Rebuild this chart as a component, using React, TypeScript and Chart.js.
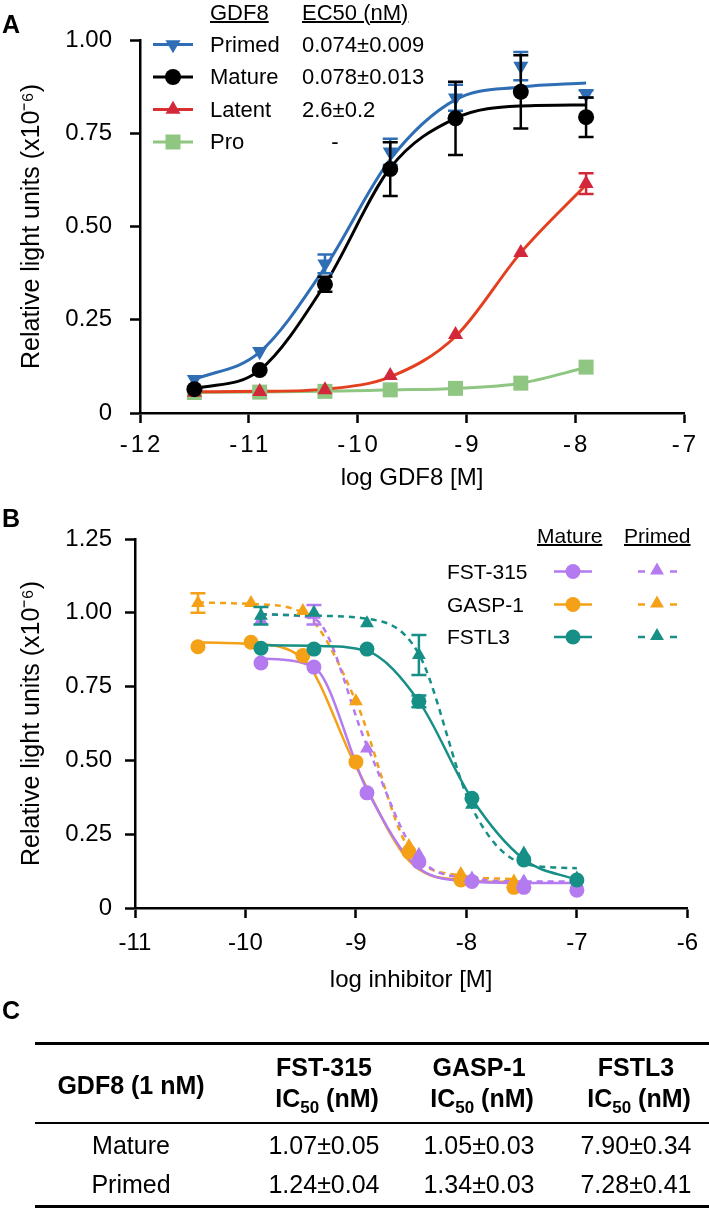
import React, { useEffect, useRef } from 'react';
import { Chart, registerables } from 'chart.js';

Chart.register(...registerables);

const FONT = "'Liberation Sans', Arial, Helvetica, sans-serif";

// ---------- Panel A data ----------
const xA = [-11.5, -10.9, -10.3, -9.7, -9.1, -8.5, -7.9];
const primedA = [0.09, 0.165, 0.4, 0.7, 0.845, 0.93, 0.855];
const primedErrA = [0, 0, 0.025, 0.035, 0.035, 0.038, 0.01];
const primedFitA = [0.09, 0.163, 0.39, 0.68, 0.84, 0.874, 0.885];
const matureA = [0.064, 0.115, 0.345, 0.654, 0.79, 0.861, 0.793];
const matureErrA = [0, 0, 0.02, 0.072, 0.098, 0.098, 0.053];
const matureFitA = [0.064, 0.115, 0.345, 0.657, 0.79, 0.823, 0.826];
const latentA = [0.055, 0.057, 0.062, 0.1, 0.21, 0.43, 0.615];
const latentErrA = [0, 0, 0, 0, 0, 0, 0.028];
const latentFitA = [0.057, 0.058, 0.064, 0.097, 0.205, 0.43, 0.612];
const proA = [0.055, 0.056, 0.058, 0.062, 0.066, 0.08, 0.123];
const proFitA = [0.055, 0.056, 0.058, 0.062, 0.066, 0.08, 0.122];
const xTickLabelsA = ['-12', '-11', '-10', '-9', '-8', '-7'];
const yTickLabelsA = ['0', '0.25', '0.50', '0.75', '1.00'];
const legendA = [
  { name: 'Primed', ec50: '0.074±0.009' },
  { name: 'Mature', ec50: '0.078±0.013' },
  { name: 'Latent', ec50: '2.6±0.2' },
  { name: 'Pro', ec50: '-' },
];

// ---------- Panel B data ----------
const xFst = [-9.86, -9.38, -8.9, -8.43, -7.95, -7.48, -7.0];
const xGasp = [-10.43, -9.95, -9.48, -9.0, -8.52, -8.05, -7.57];
const fstMature = [0.83, 0.816, 0.39, 0.156, 0.09, 0.07, 0.06];
const fstMatureFit = [0.845, 0.815, 0.4, 0.135, 0.09, 0.085, 0.085];
const fstPrimed = [0.975, 0.993, 0.54, 0.18, 0.1, 0.09, 0.085];
const fstPrimedErr = [0, 0.033, 0, 0, 0, 0, 0];
const fstPrimedFit = [0.995, 0.98, 0.55, 0.17, 0.1, 0.09, 0.09];
const gaspMature = [0.885, 0.9, 0.855, 0.495, 0.19, 0.095, 0.07];
const gaspMatureFit = [0.9, 0.895, 0.845, 0.48, 0.16, 0.095, 0.088];
const gaspPrimed = [1.033, 1.033, 1.006, 0.7, 0.21, 0.115, 0.09];
const gaspPrimedErr = [0.033, 0, 0, 0, 0, 0, 0];
const gaspPrimedFit = [1.035, 1.03, 1.0, 0.7, 0.2, 0.11, 0.098];
const fstl3Mature = [0.88, 0.877, 0.877, 0.7, 0.372, 0.163, 0.095];
const fstl3MatureErr = [0, 0, 0, 0.02, 0, 0, 0];
const fstl3MatureFit = [0.89, 0.888, 0.87, 0.7, 0.37, 0.165, 0.095];
const fstl3Primed = [0.99, 1.0, 0.965, 0.857, 0.35, 0.185, 0.1];
const fstl3PrimedErr = [0.03, 0, 0, 0.068, 0, 0, 0];
const fstl3PrimedFit = [0.995, 0.99, 0.98, 0.86, 0.34, 0.15, 0.135];
const xTickLabelsB = ['-11', '-10', '-9', '-8', '-7', '-6'];
const yTickLabelsB = ['0', '0.25', '0.50', '0.75', '1.00', '1.25'];
const legendB = ['FST-315', 'GASP-1', 'FSTL3'];

// ---------- Panel C data ----------
const tableCols = ['FST-315', 'GASP-1', 'FSTL3'];
const tableRows = ['Mature', 'Primed'];
const tableValues = [
  ['1.07±0.05', '1.05±0.03', '7.90±0.34'],
  ['1.24±0.04', '1.34±0.03', '7.28±0.41'],
];

// ---------- colours ----------
const C_BLUE = '#2F6EB5';
const C_BLACK = '#000000';
const C_RED_M = '#D3283A';
const C_RED_L = '#E4401F';
const C_GREEN = '#8FC682';
const C_PURPLE = '#B47AF0';
const C_ORANGE = '#F4A117';
const C_TEAL = '#168F86';

const pts = (xs: number[], ys: number[]) => xs.map((x, i) => ({ x, y: ys[i] }));

const errorBars = {
  id: 'errorBars',
  afterDatasetDraw(chart: any, args: any) {
    const ds = chart.data.datasets[args.index];
    if (!ds.errors) return;
    const ctx = chart.ctx;
    const ys = chart.scales.y;
    ctx.save();
    ctx.strokeStyle = ds.pointBackgroundColor;
    ctx.lineWidth = 2.5;
    args.meta.data.forEach((el: any, i: number) => {
      const e = ds.errors[i];
      if (!e) return;
      const v = ds.data[i].y;
      const top = ys.getPixelForValue(v + e);
      const bot = ys.getPixelForValue(v - e);
      const x = el.x;
      ctx.beginPath();
      ctx.moveTo(x, top);
      ctx.lineTo(x, bot);
      ctx.moveTo(x - 7.5, top);
      ctx.lineTo(x + 7.5, top);
      ctx.moveTo(x - 7.5, bot);
      ctx.lineTo(x + 7.5, bot);
      ctx.stroke();
    });
    ctx.restore();
  },
};

const spacedTicks = {
  id: 'spacedTicks',
  beforeDraw(chart: any, _a: any, opts: any) {
    const s: any = chart.scales.x;
    if (!opts || !opts.spacing || !s || s.__spaced) return;
    const orig = s.drawLabels.bind(s);
    s.drawLabels = (area: any) => {
      const c: any = chart.ctx;
      c.save();
      c.letterSpacing = opts.spacing;
      c.translate(opts.shift || 0, 0);
      orig(area);
      c.restore();
    };
    s.__spaced = true;
  },
};

function markerDs(label: string, xs: number[], ys: number[], color: string, style: string, r: number, order: number, errors?: number[], rot = 0) {
  return {
    label,
    data: pts(xs, ys),
    showLine: false,
    pointStyle: style,
    pointRotation: rot,
    pointRadius: r,
    pointHoverRadius: r,
    pointBackgroundColor: color,
    pointBorderColor: color,
    pointBorderWidth: 0,
    errors,
    order,
    clip: false,
  };
}

function fitDs(xs: number[], ys: number[], color: string, width: number, order: number, dash: number[] = []) {
  return {
    label: 'fit',
    data: pts(xs, ys),
    borderColor: color,
    borderWidth: width,
    borderDash: dash,
    pointRadius: 0,
    pointHoverRadius: 0,
    cubicInterpolationMode: 'monotone',
    tension: 0.4,
    fill: false,
    order,
    clip: false,
  };
}

function axisCommon(min: number, max: number, step: number, labels: string[], padding: number, size: number) {
  return {
    type: 'linear',
    min,
    max,
    ticks: {
      stepSize: step,
      color: '#000',
      padding,
      font: { size, family: FONT },
      callback: (_v: any, i: number) => labels[i],
    },
    grid: {
      drawOnChartArea: false,
      drawTicks: true,
      tickLength: 10,
      tickWidth: 2.5,
      tickColor: '#000',
      color: '#000',
    },
    border: { display: true, color: '#000', width: 2.5 },
  };
}

function configA(): any {
  return {
    type: 'line',
    data: {
      datasets: [
        markerDs('Mature', xA, matureA, C_BLACK, 'circle', 8, 1, matureErrA),
        markerDs('Primed', xA, primedA, C_BLUE, 'triangle', 8.7, 2, primedErrA, 180),
        markerDs('Latent', xA, latentA, C_RED_M, 'triangle', 8.7, 3, latentErrA),
        markerDs('Pro', xA, proA, C_GREEN, 'rect', 10.6, 4),
        fitDs(xA, matureFitA, C_BLACK, 3, 11),
        fitDs(xA, primedFitA, C_BLUE, 3, 12),
        fitDs(xA, latentFitA, C_RED_L, 3, 13),
        fitDs(xA, proFitA, C_GREEN, 3, 14),
      ],
    },
    options: {
      responsive: false,
      animation: false,
      events: [],
      layout: { padding: { left: 0, top: 40, right: 25, bottom: 0 } },
      plugins: { legend: { display: false }, tooltip: { enabled: false }, spacedTicks: { spacing: '3px', shift: 1.5 } },
      scales: {
        x: {
          ...axisCommon(-12, -7, 1, xTickLabelsA, 8, 24),
          title: { display: true, text: 'log GDF8 [M]', color: '#000', font: { size: 24, family: FONT }, padding: { top: 0, bottom: 2 } },
          afterFit: (s: any) => { s.height = 82; },
        },
        y: {
          ...axisCommon(0, 1, 0.25, yTickLabelsA, 18, 24),
          title: { display: true, text: 'Relative light units (x10⁻⁶)', color: '#000', font: { size: 25, family: FONT }, padding: { top: 17, bottom: 0 } },
          afterFit: (s: any) => { s.width = 140; },
        },
      },
    },
    plugins: [errorBars, spacedTicks],
  };
}

function configB(): any {
  const dash = [6, 5];
  return {
    type: 'line',
    data: {
      datasets: [
        markerDs('FSTL3 Primed', xFst, fstl3Primed, C_TEAL, 'triangle', 8, 1, fstl3PrimedErr),
        markerDs('FSTL3 Mature', xFst, fstl3Mature, C_TEAL, 'circle', 7.5, 2, fstl3MatureErr),
        markerDs('FST-315 Primed', xFst, fstPrimed, C_PURPLE, 'triangle', 8, 3, fstPrimedErr),
        markerDs('FST-315 Mature', xFst, fstMature, C_PURPLE, 'circle', 7.5, 4),
        markerDs('GASP-1 Primed', xGasp, gaspPrimed, C_ORANGE, 'triangle', 8, 5, gaspPrimedErr),
        markerDs('GASP-1 Mature', xGasp, gaspMature, C_ORANGE, 'circle', 7.5, 6),
        fitDs(xFst, fstl3PrimedFit, C_TEAL, 2.5, 11, dash),
        fitDs(xFst, fstl3MatureFit, C_TEAL, 2.5, 12),
        fitDs(xFst, fstPrimedFit, C_PURPLE, 2.5, 13, dash),
        fitDs(xFst, fstMatureFit, C_PURPLE, 2.5, 14),
        fitDs(xGasp, gaspPrimedFit, C_ORANGE, 2.5, 15, dash),
        fitDs(xGasp, gaspMatureFit, C_ORANGE, 2.5, 16),
      ],
    },
    options: {
      responsive: false,
      animation: false,
      events: [],
      layout: { padding: { left: 0, top: 49, right: 20, bottom: 0 } },
      plugins: { legend: { display: false }, tooltip: { enabled: false } },
      scales: {
        x: {
          ...axisCommon(-11, -6, 1, xTickLabelsB, 11, 24),
          title: { display: true, text: 'log inhibitor [M]', color: '#000', font: { size: 24, family: FONT }, padding: { top: 0, bottom: 15 } },
          afterFit: (s: any) => { s.height = 102; },
        },
        y: {
          ...axisCommon(0, 1.25, 0.25, yTickLabelsB, 13, 24),
          title: { display: true, text: 'Relative light units (x10⁻⁶)', color: '#000', font: { size: 25, family: FONT }, padding: { top: 17, bottom: 0 } },
          afterFit: (s: any) => { s.width = 135; },
        },
      },
    },
    plugins: [errorBars],
  };
}

type TxtProps = { x: number; y: number; size: number; bold?: boolean; align?: 'left' | 'center' | 'right'; underline?: boolean; children: React.ReactNode };
function Txt({ x, y, size, bold, align = 'left', underline, children }: TxtProps) {
  const w = 300;
  const left = align === 'left' ? x : align === 'center' ? x - w / 2 : x - w;
  return (
    <div
      style={{
        position: 'absolute',
        left,
        top: y - 15,
        width: w,
        height: 30,
        lineHeight: '30px',
        fontSize: size,
        fontWeight: bold ? 700 : 400,
        textAlign: align,
        textDecoration: underline ? 'underline' : 'none',
        textDecorationThickness: underline ? '1.5px' : undefined,
        whiteSpace: 'nowrap',
        fontFamily: FONT,
        color: '#000',
      }}
    >
      {children}
    </div>
  );
}

function Mark({ shape, cx, cy, r, color }: { shape: string; cx: number; cy: number; r: number; color: string }) {
  if (shape === 'circle') return <circle cx={cx} cy={cy} r={r} fill={color} />;
  if (shape === 'tri') return <polygon points={`${cx},${cy - r} ${cx + r * 0.866},${cy + r / 2} ${cx - r * 0.866},${cy + r / 2}`} fill={color} />;
  if (shape === 'triDown') return <polygon points={`${cx},${cy + r} ${cx + r * 0.866},${cy - r / 2} ${cx - r * 0.866},${cy - r / 2}`} fill={color} />;
  const h = r * 0.7071;
  return <rect x={cx - h} y={cy - h} width={2 * h} height={2 * h} fill={color} />;
}

const legendAStyle = [
  { shape: 'triDown', r: 8.7, color: C_BLUE, line: C_BLUE },
  { shape: 'circle', r: 8, color: C_BLACK, line: C_BLACK },
  { shape: 'tri', r: 8.7, color: C_RED_M, line: '#D8302F' },
  { shape: 'square', r: 10.6, color: C_GREEN, line: C_GREEN },
];
const legendARowY = [44.5, 77, 109.5, 142];
const legendBColors = [C_PURPLE, C_ORANGE, C_TEAL];
const legendBRowY = [571.5, 604.5, 637];

export default function App() {
  const refA = useRef<HTMLCanvasElement>(null);
  const refB = useRef<HTMLCanvasElement>(null);

  useEffect(() => {
    Chart.defaults.font.family = FONT;
    Chart.defaults.color = '#000';
    const a = new Chart(refA.current as HTMLCanvasElement, configA());
    const b = new Chart(refB.current as HTMLCanvasElement, configB());
    return () => {
      a.destroy();
      b.destroy();
    };
  }, []);

  const colC = [131, 324, 479, 636];

  return (
    <div style={{ position: 'absolute', left: 0, top: 0, width: 709, height: 1211, background: '#fff', overflow: 'hidden', fontFamily: FONT }}>
      <canvas ref={refA} width={709} height={495} style={{ position: 'absolute', left: 0, top: 0, display: 'block' }} />
      <canvas ref={refB} width={709} height={520} style={{ position: 'absolute', left: 0, top: 490, display: 'block' }} />

      {/* legend symbols */}
      <svg width={709} height={1211} style={{ position: 'absolute', left: 0, top: 0, pointerEvents: 'none' }}>
        {legendAStyle.map((s, i) => (
          <g key={'la' + i}>
            <line x1={153} x2={193} y1={legendARowY[i]} y2={legendARowY[i]} stroke={s.line} strokeWidth={3} />
            <Mark shape={s.shape} cx={173} cy={legendARowY[i]} r={s.r} color={s.color} />
          </g>
        ))}
        {legendBColors.map((c, i) => (
          <g key={'lb' + i}>
            <line x1={554} x2={592} y1={legendBRowY[i]} y2={legendBRowY[i]} stroke={c} strokeWidth={2.5} />
            <Mark shape="circle" cx={573} cy={legendBRowY[i]} r={7.5} color={c} />
            <line x1={638} x2={645} y1={legendBRowY[i]} y2={legendBRowY[i]} stroke={c} strokeWidth={2.5} />
            <line x1={670} x2={677} y1={legendBRowY[i]} y2={legendBRowY[i]} stroke={c} strokeWidth={2.5} />
            <Mark shape="tri" cx={657} cy={legendBRowY[i] - 1} r={8} color={c} />
          </g>
        ))}
      </svg>

      {/* panel letters */}
      <Txt x={2} y={24} size={25} bold>A</Txt>
      <Txt x={2} y={518} size={25} bold>B</Txt>
      <Txt x={2} y={1010} size={25} bold>C</Txt>

      {/* legend A text */}
      <Txt x={210} y={12.5} size={22} underline>GDF8</Txt>
      <Txt x={302} y={12.5} size={22} underline>EC50 (nM)</Txt>
      {legendA.map((r, i) => (
        <React.Fragment key={'lat' + i}>
          <Txt x={210} y={legendARowY[i]} size={22}>{r.name}</Txt>
          {r.ec50 === '-' ? (
            <Txt x={335} y={legendARowY[i]} size={22} align="center">{r.ec50}</Txt>
          ) : (
            <Txt x={302} y={legendARowY[i]} size={22}>{r.ec50}</Txt>
          )}
        </React.Fragment>
      ))}

      {/* legend B text */}
      <Txt x={537} y={535.5} size={21} underline>Mature</Txt>
      <Txt x={624} y={535.5} size={21} underline>Primed</Txt>
      {legendB.map((n, i) => (
        <Txt key={'lbt' + i} x={447} y={legendBRowY[i]} size={21}>{n}</Txt>
      ))}

      {/* panel C table */}
      <div style={{ position: 'absolute', left: 35, width: 674, top: 1042, height: 3, background: '#000' }} />
      <div style={{ position: 'absolute', left: 35, width: 674, top: 1122, height: 2, background: '#000' }} />
      <div style={{ position: 'absolute', left: 35, width: 674, top: 1205, height: 3, background: '#000' }} />
      <Txt x={colC[0]} y={1085} size={25} bold align="center">GDF8 (1 nM)</Txt>
      {tableCols.map((c, i) => (
        <React.Fragment key={'th' + i}>
          <Txt x={colC[i + 1]} y={1067} size={25} bold align="center">{c}</Txt>
          <Txt x={colC[i + 1] + 3} y={1098} size={25} bold align="center">
            IC<sub style={{ fontSize: 17, verticalAlign: '-6px', lineHeight: 0 }}>50</sub> (nM)
          </Txt>
        </React.Fragment>
      ))}
      {tableRows.map((r, ri) => (
        <React.Fragment key={'tr' + ri}>
          <Txt x={colC[0]} y={ri === 0 ? 1145 : 1184} size={25} align="center">{r}</Txt>
          {tableValues[ri].map((v, ci) => (
            <Txt key={'td' + ci} x={colC[ci + 1]} y={ri === 0 ? 1145 : 1184} size={25} align="center">{v}</Txt>
          ))}
        </React.Fragment>
      ))}
    </div>
  );
}
